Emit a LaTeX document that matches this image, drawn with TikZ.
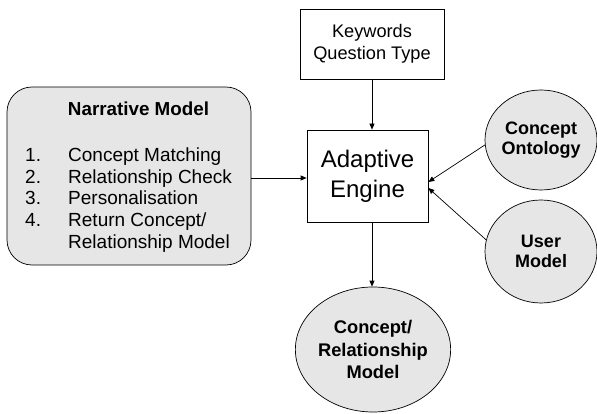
\documentclass[tikz,border=0pt]{standalone}
\usepackage{fontspec}
\setmainfont{Liberation Sans}
\usetikzlibrary{shapes.geometric,arrows.meta}
\definecolor{shade}{HTML}{E6E6E6}
\tikzset{
  link/.style={draw=black, line width=0.7pt, -{Triangle[length=6pt,width=5pt]}},
  plainbox/.style={draw=black, line width=0.7pt, fill=white, align=center, inner sep=0pt},
  blob/.style={ellipse, draw=black, line width=0.7pt, fill=shade, align=center, inner sep=0pt,
    font=\fontsize{18}{20}\selectfont\bfseries},
  listtext/.style={anchor=base west, inner sep=0pt, font=\fontsize{19}{22}\selectfont},
}
\begin{document}
\begin{tikzpicture}[x=1pt,y=-1pt]
\useasboundingbox (0,0) rectangle (597,414);

% input of keywords
\node[plainbox, minimum width=144pt, minimum height=70pt,
  font=\fontsize{18.2}{21.7}\selectfont] (kw) at (372,44) {Keywords\\Question Type};

% central engine
\node[plainbox, minimum width=121pt, minimum height=92pt,
  font=\fontsize{24}{30}\selectfont] (eng) at (367.5,176) {Adaptive\\Engine};

% narrative model panel
\node[draw=black, line width=0.7pt, fill=shade, rounded corners=25pt,
  minimum width=244pt, minimum height=178pt] (narr) at (129,176) {};
\node[anchor=base, inner sep=0pt, font=\fontsize{18.8}{22}\selectfont\bfseries]
  (ntitle) at (138.5,116) {Narrative Model};
\node[listtext] (n1) at (25,162) {1.};
\node[listtext] (n2) at (25,183.5) {2.};
\node[listtext] (n3) at (25,205) {3.};
\node[listtext] (n4) at (25,226.5) {4.};
\node[listtext] (t1) at (68,162) {Concept Matching};
\node[listtext] (t2) at (68,183.5) {Relationship Check};
\node[listtext] (t3) at (68,205) {Personalisation};
\node[listtext] (t4) at (68,226.5) {Return Concept/};
\node[listtext] (t5) at (68,248) {Relationship Model};

% side sources
\node[blob, minimum width=112pt, minimum height=100pt] (onto) at (541,140) {Concept\\Ontology};
\node[blob, minimum width=112pt, minimum height=103pt] (user) at (541,251.5) {User\\Model};

% output model
\node[blob, minimum width=132pt, minimum height=125pt,
  font=\fontsize{18.3}{22.5}\selectfont\bfseries] (crm) at (373,349.5) {Concept/\\Relationship\\Model};

% connectors
\draw[link] (kw.south) -- (kw.south |- eng.north);
\draw[link] ([yshift=-2pt]narr.east) -- ([yshift=-2pt]eng.west);
\draw[link] (onto.185) -- ([yshift=-6pt]eng.east);
\draw[link] (user.168) -- ([yshift=-12pt]eng.east);
\draw[link] (kw.south |- eng.south) -- (kw.south |- crm.north);
\end{tikzpicture}
\end{document}
